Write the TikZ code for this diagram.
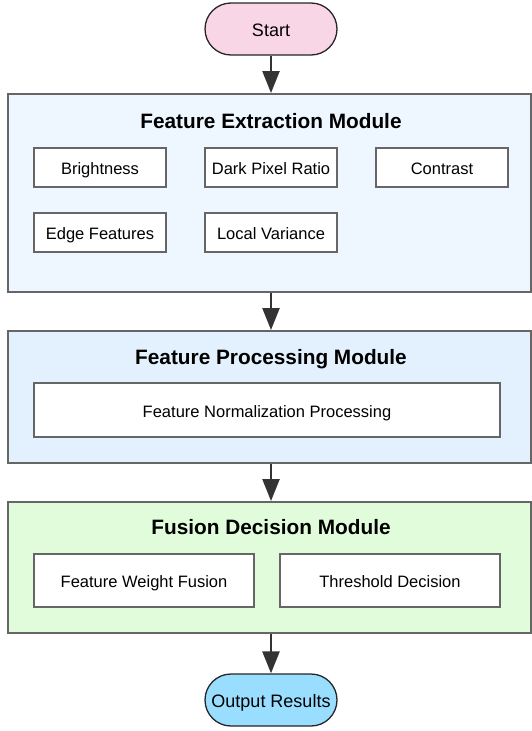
\documentclass[tikz,border=0pt]{standalone}
\usepackage{fontspec}
\setmainfont{Liberation Sans}
\usetikzlibrary{arrows.meta}
\definecolor{startpink}{HTML}{F9D6E6}
\definecolor{outblue}{HTML}{99DDFF}
\definecolor{modA}{HTML}{EEF6FF}
\definecolor{modB}{HTML}{E3F0FD}
\definecolor{modC}{HTML}{E0FCDA}
\definecolor{edge}{HTML}{666666}
\definecolor{arrowc}{HTML}{333333}
\tikzset{
  terminal/.style={draw=black!85, line width=1.3pt, rounded corners=26pt, minimum width=132pt, minimum height=52pt, font=\fontsize{18}{21}\selectfont, inner sep=0pt, text height=15pt, text depth=0pt},
  module/.style={draw=edge, line width=2pt, inner sep=0pt},
  modtitle/.style={font=\fontsize{20.8}{24}\selectfont\bfseries, inner sep=0pt, text height=15pt, text depth=0.4pt},
  item/.style={draw=edge, fill=white, line width=1.2pt, inner sep=0pt, font=\fontsize{16.5}{19}\selectfont, text height=14pt, text depth=0pt},
  flow/.style={draw=arrowc, line width=2.5pt, -{Triangle[length=22pt,width=17pt]}}
}
\begin{document}
\begin{tikzpicture}[x=1pt,y=-1pt]
\useasboundingbox (0,0) rectangle (531,731);
% terminals
\node[terminal, fill=startpink] (start) at (271,29) {Start};
\node[terminal, fill=outblue] (out) at (271,700) {Output Results};
% modules
\node[module, fill=modA, minimum width=523pt, minimum height=198pt] (m1) at (269,193) {};
\node[module, fill=modB, minimum width=523pt, minimum height=132pt] (m2) at (269,397) {};
\node[module, fill=modC, minimum width=523pt, minimum height=131pt] (m3) at (269,567.5) {};
\node[modtitle] (t1) at (271,121) {Feature Extraction Module};
\node[modtitle] (t2) at (271,357) {Feature Processing Module};
\node[modtitle] (t3) at (271,527) {Fusion Decision Module};
% items module 1
\node[item, minimum width=132pt, minimum height=39pt] (b1) at (100,167.5) {Brightness};
\node[item, minimum width=132pt, minimum height=39pt] (b2) at (271,167.5) {Dark Pixel Ratio};
\node[item, minimum width=132pt, minimum height=39pt] (b3) at (442,167.5) {Contrast};
\node[item, minimum width=132pt, minimum height=39pt] (b4) at (100,232.5) {Edge Features};
\node[item, minimum width=132pt, minimum height=39pt] (b5) at (271,232.5) {Local Variance};
% module 2
\node[item, minimum width=466pt, minimum height=54pt] (n1) at (267,410) {Feature Normalization Processing};
% module 3
\node[item, minimum width=220pt, minimum height=53pt] (f1) at (144,580.5) {Feature Weight Fusion};
\node[item, minimum width=220pt, minimum height=53pt] (f2) at (390,580.5) {Threshold Decision};
% arrows
\draw[flow] (start.south) -- (start.south |- m1.north);
\draw[flow] (start.south |- m1.south) -- (start.south |- m2.north);
\draw[flow] (start.south |- m2.south) -- (start.south |- m3.north);
\draw[flow] (start.south |- m3.south) -- (out.north);
\end{tikzpicture}
\end{document}
